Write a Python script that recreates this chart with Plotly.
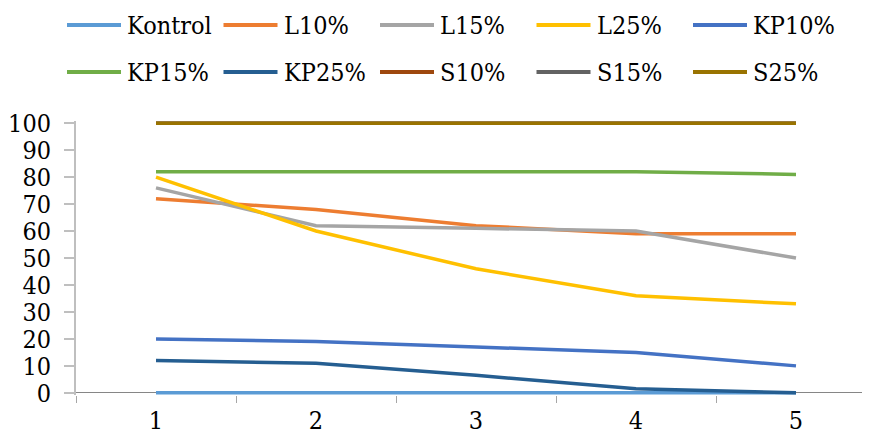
import plotly.graph_objects as go

categories = ["1", "2", "3", "4", "5"]
series_names = ["Kontrol", "L10%", "L15%", "L25%", "KP10%",
                "KP15%", "KP25%", "S10%", "S15%", "S25%"]
kontrol = [0, 0, 0, 0, 0]
l10 = [72, 68, 62, 59, 59]
l15 = [76, 62, 61, 60, 50]
l25 = [80, 60, 46, 36, 33]
kp10 = [20, 19, 17, 15, 10]
kp15 = [82, 82, 82, 82, 81]
kp25 = [12, 11, 6.5, 1.5, 0]
s10 = [100, 100, 100, 100, 100]
s15 = [100, 100, 100, 100, 100]
s25 = [100, 100, 100, 100, 100]
series_values = [kontrol, l10, l15, l25, kp10, kp15, kp25, s10, s15, s25]
y_ticks = [0, 10, 20, 30, 40, 50, 60, 70, 80, 90, 100]

colors = ["#5B9BD5", "#ED7D31", "#A5A5A5", "#FFC000", "#4472C4",
          "#70AD47", "#255E91", "#9E480E", "#636363", "#997300"]

FONT = "'DejaVu Serif Condensed', 'DejaVu Serif', serif"
FS = 25
OFF = 8  # page body margin
PAD = 0.8  # small y-range padding so lines at 0 and 100 are not clipped
W, H = 870 - OFF, 441 - OFF
ML, MR, MT, MB = 76 - OFF, 0, 121 - OFF, 46
PW, PH = W - ML - MR, H - MT - MB

fig = go.Figure()
for name, vals, col in zip(series_names, series_values, colors):
    fig.add_trace(go.Scatter(x=categories, y=vals, mode="lines", name=name,
                             line=dict(color=col, width=3.5), showlegend=False))

# manual legend (two rows of five), positions in page pixels
def px_to_paper(px, py):
    return (px - OFF - ML) / PW, (H - MB - (py - OFF)) / PH

for i, (name, col) in enumerate(zip(series_names, colors)):
    row, c = divmod(i, 5)
    x0 = 67 + c * 156.5
    x1 = x0 + 54
    yy = 25 + row * 47
    a0, b0 = px_to_paper(x0, yy)
    a1, _ = px_to_paper(x1, yy)
    fig.add_shape(type="line", xref="paper", yref="paper", x0=a0, x1=a1, y0=b0, y1=b0,
                  line=dict(color=col, width=4))
    at, _ = px_to_paper(x1 + 4, yy)
    fig.add_annotation(xref="paper", yref="paper", x=at, y=b0, text=name, showarrow=False,
                       xanchor="left", yanchor="middle",
                       font=dict(family=FONT, size=FS, color="black"))

fig.update_layout(
    width=W, height=H,
    margin=dict(l=ML, r=MR, t=MT, b=MB, autoexpand=False),
    paper_bgcolor="white", plot_bgcolor="white",
    font=dict(family=FONT, size=FS, color="black"),
    showlegend=False,
)
fig.update_xaxes(type="category", range=[-0.5, 4.4625], tickson="boundaries",
                 ticks="outside", ticklen=7, tickcolor="#A6A6A6",
                 showline=False, showgrid=False, zeroline=False, automargin=False,
                 ticklabelstandoff=8,
                 tickfont=dict(family=FONT, size=FS, color="black"))
fig.update_yaxes(range=[-PAD, 100 + PAD], tickvals=y_ticks, ticks="outside", ticklen=10,
                 tickcolor="#BFBFBF", tickwidth=1.5,
                 showline=True, linecolor="#BFBFBF", linewidth=2,
                 showgrid=False, zeroline=True, zerolinecolor="#868686", zerolinewidth=1,
                 automargin=False, ticklabelstandoff=8,
                 tickfont=dict(family=FONT, size=FS, color="black"))

fig.write_html("out.html")
